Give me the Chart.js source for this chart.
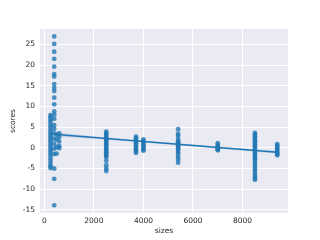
<!DOCTYPE html>
<html>
<head>
<meta charset="utf-8">
<script src="https://cdn.jsdelivr.net/npm/chart.js@4.4.0/dist/chart.umd.min.js"></script>
<style>
  html, body { margin: 0; padding: 0; background: #fff; }
  #wrap { width: 320px; height: 240px; }
</style>
</head>
<body>
<div id="wrap"><canvas id="chart" width="320" height="240"></canvas></div>
<script>
const sizes = [250, 400, 500, 600, 2500, 3700, 4000, 5400, 7000, 8500, 9400];
const scores = [
    [7.9, 7.4, 6.8, 6.2, 5.5, 4.9, 4.2, 3.6, 3.0, 2.4, 1.8, 1.2, 0.6, 0.0, -0.6, -1.2, -1.8, -2.5, -3.2, -3.9, -4.5, -4.9],
    [26.9, 25.1, 23.2, 21.5, 19.6, 17.8, 17.2, 15.4, 14.5, 13.7, 12.1, 10.5, 8.8, 8.0, 7.0, 5.5, 4.6, 3.5, 2.2, 1.0, -0.2, -1.5, -5.0, -7.5, -13.9],
    [3.2, 2.0, 0.2, -1.4],
    [3.5, 2.5, 1.5, 0.4, -0.1],
    [3.9, 3.5, 3.1, 2.7, 2.3, 2.0, 1.6, 1.2, 0.9, 0.5, 0.1, -0.3, -0.7, -1.1, -1.5, -1.9, -2.2, -3.1, -4.2, -5.0, -5.6],
    [2.7, 2.3, 1.9, 1.5, 1.1, 0.7, 0.3, -0.1, -0.5, -0.9, -1.2],
    [2.0, 1.6, 1.2, 0.8, 0.4, 0.0, -0.4, -0.7],
    [4.5, 3.4, 2.9, 2.1, 1.6, 1.3, 0.9, 0.5, 0.2, -0.1, -0.5, -1.0, -1.5, -2.2, -2.8, -3.6],
    [1.1, 0.7, 0.3, -0.1, -0.4, -0.6],
    [3.6, 3.2, 2.8, 2.4, 2.0, 1.6, 1.2, 0.8, 0.4, 0.0, -0.4, -0.8, -1.2, -1.6, -2.0, -2.4, -2.8, -3.2, -3.8, -4.4, -5.0, -5.6, -6.2, -6.8, -7.3, -7.7],
    [0.9, 0.5, 0.1, -0.3, -0.7, -1.1, -1.5, -1.8]
];

// fitted line and its confidence band
const lineX = [250, 9400];
const lineY = [3.35, -1.1];
const bandX = [250, 2000, 4500, 7000, 9400];
const bandUpper = [3.95, 2.8, 1.5, 0.32, -0.75];
const bandLower = [2.75, 2.2, 1.06, -0.18, -1.45];

const xTicks = [0, 2000, 4000, 6000, 8000];
const yTicks = [-15, -10, -5, 0, 5, 10, 15, 20, 25];

const blue = '#1f77b4';
const textColor = '#262626';
const font = { family: 'DejaVu Sans', size: 7.5 };

let points = [];
for (let i = 0; i < sizes.length; i++) {
    for (let j = 0; j < scores[i].length; j++) {
        points.push({ x: sizes[i], y: scores[i][j] });
    }
}

const bgPlugin = {
    id: 'bg',
    beforeDraw(chart) {
        const a = chart.chartArea;
        const ctx = chart.ctx;
        ctx.save();
        ctx.fillStyle = '#eaeaf2';
        ctx.fillRect(a.left, a.top, a.right - a.left, a.bottom - a.top);
        ctx.restore();
    }
};

new Chart(document.getElementById('chart').getContext('2d'), {
    type: 'scatter',
    data: {
        datasets: [
            {
                type: 'line',
                data: lineX.map((x, i) => ({ x: x, y: lineY[i] })),
                borderColor: blue,
                borderWidth: 1.5,
                pointRadius: 0,
                fill: false,
                order: 0
            },
            {
                type: 'line',
                data: bandX.map((x, i) => ({ x: x, y: bandLower[i] })),
                borderWidth: 0,
                pointRadius: 0,
                fill: false,
                tension: 0.4,
                order: 1
            },
            {
                type: 'line',
                data: bandX.map((x, i) => ({ x: x, y: bandUpper[i] })),
                borderWidth: 0,
                pointRadius: 0,
                fill: '-1',
                tension: 0.4,
                backgroundColor: 'rgba(31,119,180,0.18)',
                order: 1
            },
            {
                data: points,
                backgroundColor: 'rgba(31,119,180,0.8)',
                borderWidth: 0,
                pointRadius: 2.4,
                order: 2
            }
        ]
    },
    options: {
        responsive: false,
        animation: false,
        devicePixelRatio: 1,
        layout: { padding: { left: 0, top: 29, right: 32, bottom: 0 } },
        plugins: { legend: { display: false }, tooltip: { enabled: false } },
        scales: {
            x: {
                type: 'linear',
                min: -174,
                max: 9834,
                afterBuildTicks: (s) => { s.ticks = xTicks.map(v => ({ value: v })); },
                afterFit: (s) => { s.height = 27; },
                grid: { color: '#ffffff', lineWidth: 1, drawTicks: false },
                border: { display: false },
                ticks: { color: textColor, font: font, padding: 4, maxRotation: 0, callback: (v) => String(v) },
                title: { display: true, text: 'sizes', color: textColor, font: font, padding: { top: 0, bottom: 4 } }
            },
            y: {
                type: 'linear',
                min: -15.75,
                max: 28.7,
                afterBuildTicks: (s) => { s.ticks = yTicks.map(v => ({ value: v })); },
                afterFit: (s) => { s.width = 40; },
                grid: { color: '#ffffff', lineWidth: 1, drawTicks: false },
                border: { display: false },
                ticks: { color: textColor, font: font, padding: 5 },
                title: { display: true, text: 'scores', color: textColor, font: font, padding: { top: 9, bottom: 0 } }
            }
        }
    },
    plugins: [bgPlugin]
});
</script>
</body>
</html>
